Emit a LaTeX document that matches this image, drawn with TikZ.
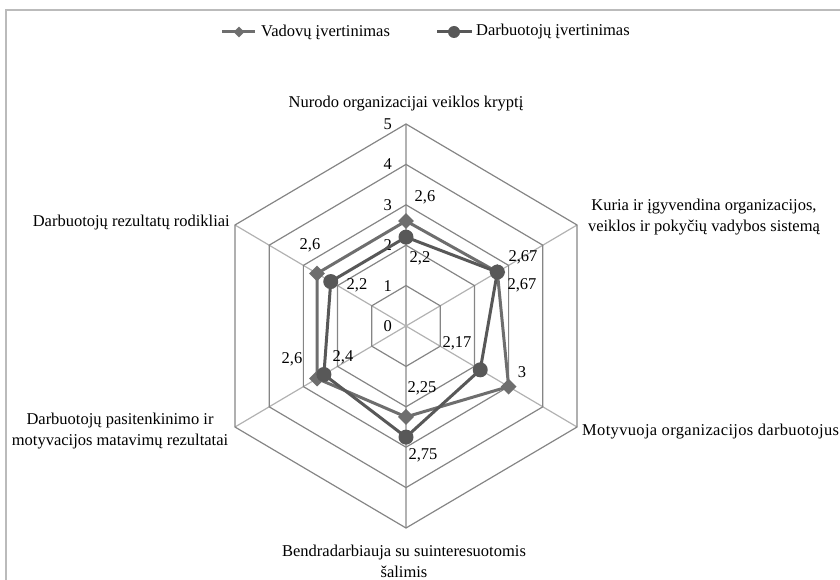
\documentclass[tikz,border=0pt]{standalone}
\usepackage{fontspec}
\setmainfont{Liberation Serif}
\usetikzlibrary{shapes.geometric}
\definecolor{gridc}{HTML}{858585}
\definecolor{spokec}{HTML}{B2B2B2}
\definecolor{framec}{HTML}{BBBBBB}
\definecolor{vadc}{HTML}{6E6E6E}
\definecolor{darc}{HTML}{585858}
\begin{document}
\begin{tikzpicture}[x=1pt,y=-1pt,
  font=\fontsize{16.5}{21}\selectfont,
  lbl/.style={inner sep=0pt, text=black},
  axlbl/.style={lbl, align=center},
  dmark/.style={diamond, fill=vadc, inner sep=0pt, minimum size=16pt},
  cmark/.style={circle, fill=darc, inner sep=0pt, minimum size=15pt},
  ser/.style={line width=3pt, line join=round},
  hexline/.style={draw=gridc, line width=1.2pt},
  spoke/.style={draw=spokec, line width=1.2pt},
  frameline/.style={draw=framec, line width=2pt}]
\useasboundingbox (0,0) rectangle (840,580);

% outer chart frame
\coordinate (fb) at (6,580);
\coordinate (fc) at (6,10);
\coordinate (fr) at (840,10);
\draw[frameline] (fb) -- (fc) -- (fr);

% grid points: axis k, level v
\coordinate (ctr) at (406,326);
\foreach \k in {0,...,5}{
  \foreach \v in {1,...,5}{
    \coordinate (g\k-\v) at ({406+\v*39.5*sin(60*\k)},{326-\v*40.4*cos(60*\k)});
  }
}
% spokes
\foreach \k in {0,...,5}{ \draw[spoke] (ctr) -- (g\k-5); }
% hexagonal rings
\foreach \v in {1,...,5}{
  \draw[hexline, line join=miter] (g0-\v) -- (g1-\v) -- (g2-\v) -- (g3-\v) -- (g4-\v) -- (g5-\v) -- cycle;
}
% scale labels
\foreach \v in {0,...,5}{
  \node[lbl, anchor=east] (t\v) at (392,{326-\v*40.4}) {\v};
}

% data points
\foreach \k/\v in {0/2.6,1/2.67,2/3,3/2.25,4/2.6,5/2.6}{
  \coordinate (va\k) at ({406+\v*39.5*sin(60*\k)},{326-\v*40.4*cos(60*\k)});
}
\foreach \k/\v in {0/2.2,1/2.67,2/2.17,3/2.75,4/2.4,5/2.2}{
  \coordinate (da\k) at ({406+\v*39.5*sin(60*\k)},{326-\v*40.4*cos(60*\k)});
}

% series: Vadovų
\draw[ser, vadc] (va0) -- (va1) -- (va2) -- (va3) -- (va4) -- (va5) -- cycle;
\foreach \k in {0,...,5}{ \node[dmark] (mva\k) at (va\k) {}; }
% series: Darbuotojų
\draw[ser, darc] (da0) -- (da1) -- (da2) -- (da3) -- (da4) -- (da5) -- cycle;
\foreach \k in {0,...,5}{ \node[cmark] (mda\k) at (da\k) {}; }

% value labels
\node[lbl] (lv0) at (425,197) {2,6};
\node[lbl] (ld0) at (420,258) {2,2};
\node[lbl] (lv1) at (523,257) {2,67};
\node[lbl] (ld1) at (522,285) {2,67};
\node[lbl] (ld2) at (457,343) {2,17};
\node[lbl] (lv2) at (522,372) {3};
\node[lbl] (lv3) at (422,388) {2,25};
\node[lbl] (ld3) at (423,455) {2,75};
\node[lbl] (lv4) at (292,359) {2,6};
\node[lbl] (ld4) at (343,357) {2,4};
\node[lbl] (lv5) at (310,245) {2,6};
\node[lbl] (ld5) at (357,285) {2,2};

% axis titles
\node[axlbl] (a0) at (406,104) {Nurodo organizacijai veiklos kryptį};
\node[axlbl] (a1) at (704,217) {Kuria ir įgyvendina organizacijos,\\veiklos ir pokyčių vadybos sistemą};
\node[axlbl, anchor=west] (a2) at (582,432) {\addfontfeature{LetterSpace=2}Motyvuoja organizacijos darbuotojus};
\node[axlbl] (a3) at (404,561) {Bendradarbiauja su suinteresuotomis\\šalimis};
\node[axlbl] (a4) at (120,431) {Darbuotojų pasitenkinimo ir\\motyvacijos matavimų rezultatai};
\node[axlbl, anchor=east] (a5) at (230,223) {Darbuotojų rezultatų rodikliai};

% legend
\coordinate (l1a) at (222,32);
\coordinate (l1b) at (255,32);
\draw[ser, vadc] (l1a) -- (l1b);
\node[dmark, minimum size=11pt] (lgv) at (239,32) {};
\node[lbl, anchor=west] (lgvt) at (261,32) {Vadovų įvertinimas};
\coordinate (l2a) at (437,32);
\coordinate (l2b) at (472,32);
\draw[ser, darc] (l2a) -- (l2b);
\node[cmark, minimum size=12pt] (lgd) at (454,32) {};
\node[lbl, anchor=west] (lgdt) at (476,32) {Darbuotojų įvertinimas};
\end{tikzpicture}
\end{document}
